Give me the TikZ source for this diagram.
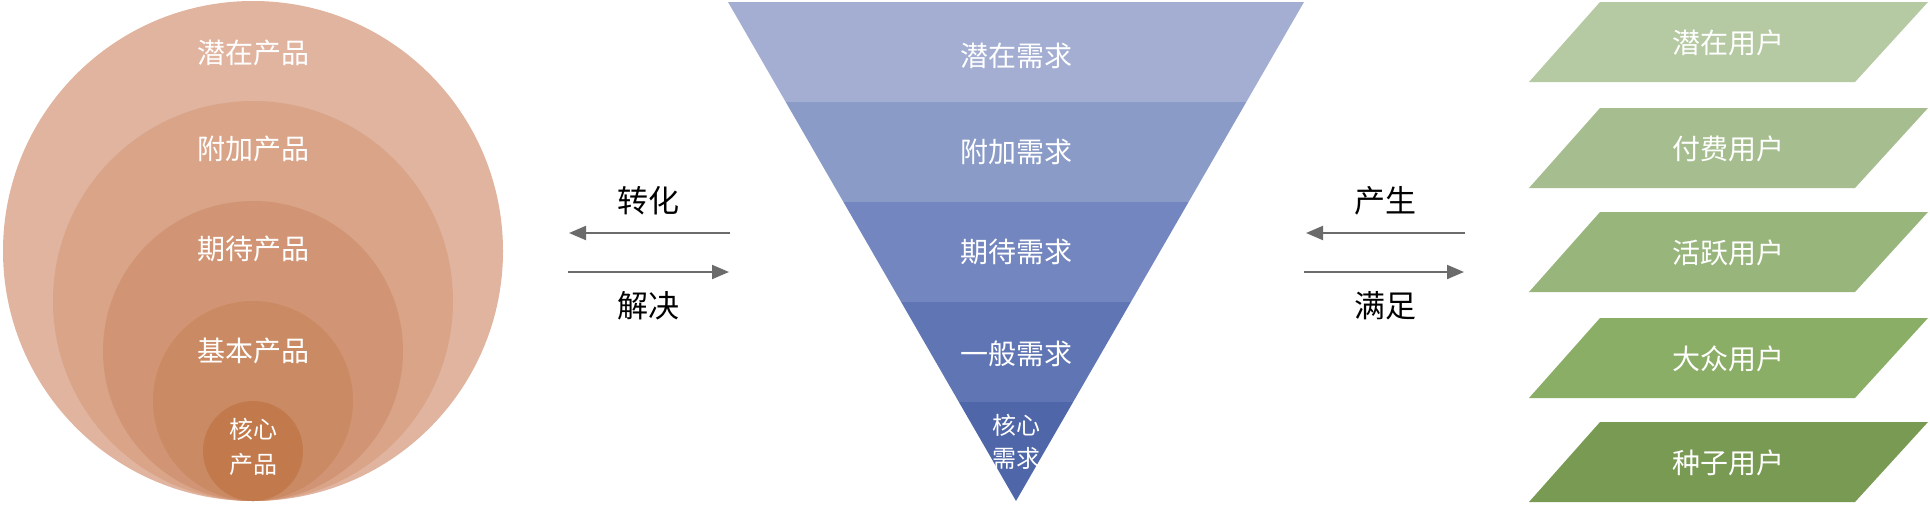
\documentclass[tikz,border=0pt]{standalone}
\usepackage{fontspec}
\setmainfont{Noto Sans CJK SC}
\usetikzlibrary{arrows.meta}
\definecolor{cA}{HTML}{E1B4A0}
\definecolor{cB}{HTML}{D9A487}
\definecolor{cC}{HTML}{D19575}
\definecolor{cD}{HTML}{CA8A63}
\definecolor{cE}{HTML}{C27A4C}
\definecolor{fA}{HTML}{A3AED2}
\definecolor{fB}{HTML}{8A9BC8}
\definecolor{fC}{HTML}{7386BF}
\definecolor{fD}{HTML}{5F75B4}
\definecolor{fE}{HTML}{4F66A9}
\definecolor{gA}{HTML}{B5C9A2}
\definecolor{gB}{HTML}{A6BE8F}
\definecolor{gC}{HTML}{98B67C}
\definecolor{gD}{HTML}{8AAE66}
\definecolor{gE}{HTML}{789A52}
\definecolor{arr}{HTML}{6B6B6B}
\tikzset{
  ring/.style={circle, inner sep=0pt, draw=none},
  wtxt/.style={text=white, font=\fontsize{28}{32}\selectfont, inner sep=0pt},
  stxt/.style={text=white, font=\fontsize{24}{28}\selectfont, inner sep=0pt},
  ltxt/.style={text=black, font=\fontsize{31}{36}\selectfont, inner sep=0pt},
  conn/.style={draw=arr, line width=2pt, -{Triangle[length=17pt,width=14pt]}}
}
\begin{document}
\begin{tikzpicture}[x=1pt,y=-1pt]
\useasboundingbox (0,0) rectangle (1930,504);
% ---- circles ----
\node[ring, fill=cA, minimum size=500pt] (c1) at (253,251) {};
\node[ring, fill=cB, minimum size=400pt] (c2) at (253,301) {};
\node[ring, fill=cC, minimum size=300pt] (c3) at (253,351) {};
\node[ring, fill=cD, minimum size=200pt] (c4) at (253,401) {};
\node[ring, fill=cE, minimum size=100pt] (c5) at (253,451) {};
\node[wtxt] (t1) at (253,53) {潜在产品};
\node[wtxt] (t2) at (253,149) {附加产品};
\node[wtxt] (t3) at (253,249) {期待产品};
\node[wtxt] (t4) at (253,351) {基本产品};
\node[stxt] (t5a) at (253,429) {核心};
\node[stxt] (t5b) at (253,464) {产品};
% ---- funnel ----
\begin{scope}
\clip (728,2) -- (1304,2) -- (1016,501) -- cycle;
\fill[fA] (700,0) rectangle (1330,102);
\fill[fB] (700,102) rectangle (1330,202);
\fill[fC] (700,202) rectangle (1330,302);
\fill[fD] (700,302) rectangle (1330,402);
\fill[fE] (700,402) rectangle (1330,504);
\end{scope}
\node[wtxt] (f1) at (1016,56) {潜在需求};
\node[wtxt] (f2) at (1016,152) {附加需求};
\node[wtxt] (f3) at (1016,252) {期待需求};
\node[wtxt] (f4) at (1016,354) {一般需求};
\node[stxt] (f5a) at (1016,425) {核心};
\node[stxt] (f5b) at (1016,458) {需求};
% ---- parallelograms ----
\foreach \y/\c/\n/\t in {2/gA/p1/潜在用户, 108/gB/p2/付费用户, 212/gC/p3/活跃用户, 318/gD/p4/大众用户, 422/gE/p5/种子用户}{
  \fill[\c] (1600,\y) -- (1928,\y) -- (1855,\y+80) -- (1529,\y+80) -- cycle;
  \node[wtxt] (\n) at (1728,\y+41) {\t};
}
% ---- arrows ----
\coordinate (la1) at (730,233);
\coordinate (la2) at (569,233);
\coordinate (lb1) at (568,272);
\coordinate (lb2) at (729,272);
\coordinate (ra1) at (1465,233);
\coordinate (ra2) at (1306,233);
\coordinate (rb1) at (1304,272);
\coordinate (rb2) at (1464,272);
\draw[conn] (la1) -- (la2);
\draw[conn] (lb1) -- (lb2);
\draw[conn] (ra1) -- (ra2);
\draw[conn] (rb1) -- (rb2);
\node[ltxt] (l1) at (648,201) {转化};
\node[ltxt] (l2) at (648,306) {解决};
\node[ltxt] (r1) at (1385,201) {产生};
\node[ltxt] (r2) at (1385,306) {满足};
\end{tikzpicture}
\end{document}
